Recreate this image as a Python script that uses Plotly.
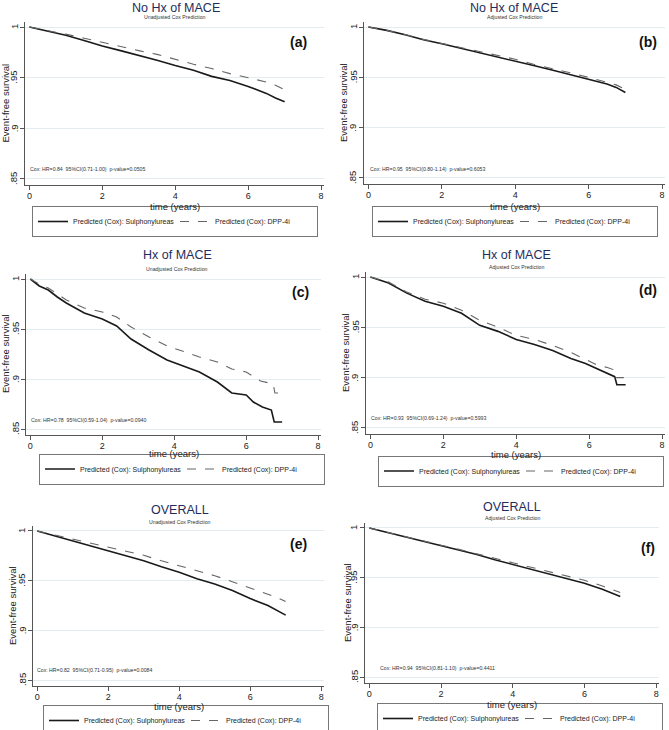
import plotly.graph_objects as go

W, H = 669, 730

# ---------------- data ----------------
time_std = [0, 0.5, 1, 1.5, 2, 2.5, 3, 3.5, 4, 4.5, 5, 5.5, 6, 6.5, 6.75, 7]

# (a) No Hx of MACE - unadjusted
a_su = [1, 0.9963, 0.992, 0.9867, 0.9813, 0.9767, 0.9723, 0.9673, 0.962, 0.9573, 0.9513, 0.9473, 0.9413, 0.9345, 0.930, 0.9263]
a_dpp = [1, 0.9967, 0.993, 0.989, 0.9847, 0.9807, 0.9767, 0.973, 0.968, 0.9633, 0.959, 0.954, 0.950, 0.9457, 0.9425, 0.938]

# (b) No Hx of MACE - adjusted
b_su = [1, 0.9967, 0.9923, 0.9873, 0.9833, 0.979, 0.975, 0.9707, 0.9667, 0.9617, 0.9573, 0.9527, 0.9483, 0.9433, 0.940, 0.935]
b_dpp = [1, 0.9967, 0.9925, 0.9877, 0.9837, 0.9797, 0.9757, 0.9717, 0.968, 0.963, 0.959, 0.9545, 0.950, 0.9455, 0.9425, 0.938]

# (c) Hx of MACE - unadjusted
c_time_su = [0, 0.25, 0.5, 0.75, 1.0, 1.5, 2.0, 2.4, 2.8, 3.3, 3.8, 4.3, 4.7, 5.2, 5.6, 6.0, 6.2, 6.45, 6.7, 6.78, 7.0]
c_su = [1, 0.993, 0.989, 0.982, 0.976, 0.966, 0.960, 0.953, 0.940, 0.929, 0.919, 0.912, 0.907, 0.897, 0.886, 0.884, 0.877, 0.872, 0.869, 0.857, 0.857]
c_time_dpp = [0, 0.25, 0.5, 0.75, 1.0, 1.5, 2.0, 2.4, 2.8, 3.3, 3.8, 4.3, 4.7, 5.2, 5.6, 6.0, 6.4, 6.75, 6.8, 6.95]
c_dpp = [1, 0.995, 0.991, 0.985, 0.979, 0.971, 0.967, 0.962, 0.952, 0.942, 0.933, 0.927, 0.922, 0.917, 0.910, 0.907, 0.898, 0.895, 0.886, 0.886]

# (d) Hx of MACE - adjusted
d_time_su = [0, 0.5, 1, 1.5, 2, 2.5, 3, 3.5, 4, 4.5, 5, 5.5, 5.9, 6.2, 6.5, 6.7, 6.76, 7.0]
d_su = [1, 0.994, 0.984, 0.976, 0.971, 0.964, 0.952, 0.946, 0.938, 0.933, 0.927, 0.919, 0.914, 0.909, 0.904, 0.901, 0.893, 0.893]
d_time_dpp = [0, 0.5, 1, 1.5, 2, 2.5, 3, 3.5, 4, 4.5, 5, 5.5, 5.9, 6.2, 6.5, 6.66, 6.72, 6.95]
d_dpp = [1, 0.995, 0.985, 0.978, 0.974, 0.967, 0.957, 0.950, 0.942, 0.938, 0.932, 0.925, 0.918, 0.913, 0.910, 0.908, 0.900, 0.900]

# (e) OVERALL - unadjusted
e_su = [1, 0.995, 0.990, 0.985, 0.980, 0.975, 0.970, 0.964, 0.9585, 0.952, 0.9466, 0.940, 0.932, 0.925, 0.920, 0.9153]
e_dpp = [1, 0.996, 0.9915, 0.988, 0.984, 0.980, 0.9755, 0.970, 0.9653, 0.960, 0.955, 0.949, 0.943, 0.9364, 0.933, 0.929]

# (f) OVERALL - adjusted
f_su = [1, 0.9955, 0.991, 0.9865, 0.9823, 0.978, 0.9733, 0.968, 0.9633, 0.959, 0.9543, 0.949, 0.9443, 0.9383, 0.935, 0.931]
f_dpp = [1, 0.9955, 0.991, 0.987, 0.9827, 0.9785, 0.9743, 0.9695, 0.965, 0.9605, 0.9563, 0.952, 0.9473, 0.9417, 0.938, 0.935]

series_names = ["Predicted (Cox): Sulphonylureas", "Predicted (Cox): DPP-4i"]
x_ticks = [0, 2, 4, 6, 8]
y_ticks = [0.85, 0.9, 0.95, 1]
y_ticktext = [".85", ".9", ".95", "1"]

panel_titles = ["No Hx of MACE", "No Hx of MACE", "Hx of MACE", "Hx of MACE", "OVERALL", "OVERALL"]
panel_subs = ["Unadjusted Cox Prediction", "Adjusted Cox Prediction"] * 3
panel_labels = ["(a)", "(b)", "(c)", "(d)", "(e)", "(f)"]
panel_hr = [
    "Cox: HR=0.84  95%CI(0.71-1.00)  p-value=0.0505",
    "Cox: HR=0.95  95%CI(0.80-1.14)  p-value=0.6053",
    "Cox: HR=0.78  95%CI(0.59-1.04)  p-value=0.0940",
    "Cox: HR=0.93  95%CI(0.69-1.24)  p-value=0.5993",
    "Cox: HR=0.82  95%CI(0.71-0.95)  p-value=0.0084",
    "Cox: HR=0.94  95%CI(0.81-1.10)  p-value=0.4411",
]

panel_data = [
    (time_std, a_su, time_std, a_dpp),
    (time_std, b_su, time_std, b_dpp),
    (c_time_su, c_su, c_time_dpp, c_dpp),
    (d_time_su, d_su, d_time_dpp, d_dpp),
    (time_std, e_su, time_std, e_dpp),
    (time_std, f_su, time_std, f_dpp),
]

# ---------------- layout (pixel positions) ----------------
layout_px = [
    dict(box=(25, 22, 324, 185), title=(175.5, 8), sub=(175, 17), lab=(298, 42), hr=(28, 169),
         xt=(175, 206), yt=(5, 103.5), leg=(32, 221.5)),
    dict(box=(364, 22, 665, 184), title=(514, 8), sub=(514, 17), lab=(648, 42), hr=(368, 169),
         xt=(515, 206), yt=(343, 103), leg=(372, 221.5)),
    dict(box=(26, 274, 321, 435), title=(177, 255), sub=(177, 269), lab=(300, 292), hr=(29, 420),
         xt=(174, 453.5), yt=(5, 354), leg=(39, 469)),
    dict(box=(366, 272, 665, 434), title=(516, 255), sub=(516, 267), lab=(648, 290), hr=(369, 418),
         xt=(516, 454), yt=(345, 353), leg=(378, 471)),
    dict(box=(33, 526, 324, 686), title=(180, 510), sub=(180, 522), lab=(298, 544), hr=(35, 670),
         xt=(179, 706), yt=(12, 606), leg=(43, 720.5)),
    dict(box=(365, 523, 659, 683), title=(512, 507), sub=(512, 518), lab=(648, 548), hr=(378, 668),
         xt=(512, 704), yt=(347, 603), leg=(377, 718.5)),
]

FONT = "Liberation Sans, Arial, sans-serif"
TITLE_COLOR = "#1e2d5c"
AXIS_COLOR = "#555555"
GRID_COLOR = "#e3ecee"


def px(x):
    return x / W


def py(y):
    return 1 - y / H


fig = go.Figure()
annotations = []
layout_updates = {}

for i in range(6):
    n = i + 1
    sfx = "" if n == 1 else str(n)
    L = layout_px[i]
    t1, s1, t2, s2 = panel_data[i]
    legname = "legend" if n == 1 else f"legend{n}"

    fig.add_trace(go.Scatter(
        x=t1, y=s1, mode="lines", name=series_names[0],
        line=dict(color="#1a1a1a", width=1.6),
        xaxis="x" + sfx, yaxis="y" + sfx, legend=legname, showlegend=True))
    fig.add_trace(go.Scatter(
        x=t2, y=s2, mode="lines", name=series_names[1],
        line=dict(color="#666666", width=1.1, dash="dash"),
        xaxis="x" + sfx, yaxis="y" + sfx, legend=legname, showlegend=True))

    x0, y0, x1, y1 = L["box"]
    layout_updates["xaxis" + sfx] = dict(
        domain=[px(x0), px(x1)], range=[-0.12, 8.08], anchor="y" + sfx,
        tickvals=x_ticks, ticks="outside", ticklen=4, tickcolor=AXIS_COLOR,
        showline=True, linecolor=AXIS_COLOR, linewidth=1, showgrid=False, zeroline=False,
        automargin=False, ticklabelstandoff=-2,
        tickfont=dict(family=FONT, size=9, color="#222"), fixedrange=True)
    layout_updates["yaxis" + sfx] = dict(
        domain=[py(y1), py(y0)], range=[0.844, 1.005], anchor="x" + sfx,
        tickvals=y_ticks, showticklabels=False,
        ticks="outside", ticklen=4, tickcolor=AXIS_COLOR,
        showline=True, linecolor=AXIS_COLOR, linewidth=1,
        showgrid=True, gridcolor=GRID_COLOR, gridwidth=1, zeroline=False,
        automargin=False, fixedrange=True)

    # rotated y tick labels (Stata style), placed on the axis scale
    for tv, tt in zip(y_ticks, y_ticktext):
        annotations.append(dict(
            text=tt, x=px(x0 - 11), y=tv, xref="paper", yref="y" + sfx,
            xanchor="center", yanchor="middle", showarrow=False, textangle=-90,
            font=dict(family=FONT, size=9.5, color="#222")))

    lx, ly = L["leg"]
    layout_updates[legname] = dict(
        x=px(lx), y=py(ly), xanchor="left", yanchor="middle", orientation="h",
        entrywidth=97, entrywidthmode="pixels", itemwidth=30,
        bordercolor="#777", borderwidth=1, bgcolor="white",
        font=dict(family=FONT, size=7, color="#222"), tracegroupgap=0)

    annotations += [
        dict(text=panel_titles[i], x=px(L["title"][0]), y=py(L["title"][1]), xref="paper", yref="paper",
             xanchor="center", yanchor="middle", showarrow=False,
             font=dict(family=FONT, size=12.5, color=TITLE_COLOR)),
        dict(text=panel_subs[i], x=px(L["sub"][0]), y=py(L["sub"][1]), xref="paper", yref="paper",
             xanchor="center", yanchor="middle", showarrow=False,
             font=dict(family=FONT, size=5.2, color="#333")),
        dict(text="<b>" + panel_labels[i] + "</b>", x=px(L["lab"][0]), y=py(L["lab"][1]), xref="paper",
             yref="paper", xanchor="center", yanchor="middle", showarrow=False,
             font=dict(family=FONT, size=14, color="#111")),
        dict(text=panel_hr[i], x=px(L["hr"][0]), y=py(L["hr"][1]), xref="paper", yref="paper",
             xanchor="left", yanchor="middle", showarrow=False,
             font=dict(family=FONT, size=5.2, color="#333")),
        dict(text="time (years)", x=px(L["xt"][0]), y=py(L["xt"][1]), xref="paper", yref="paper",
             xanchor="center", yanchor="middle", showarrow=False,
             font=dict(family=FONT, size=9.5, color="#222")),
        dict(text="Event-free survival", x=px(L["yt"][0]), y=py(L["yt"][1]), xref="paper", yref="paper",
             xanchor="center", yanchor="middle", showarrow=False, textangle=-90,
             font=dict(family=FONT, size=9.5, color="#222")),
    ]

fig.update_layout(
    width=W, height=H, margin=dict(l=0, r=0, t=0, b=0, autoexpand=False),
    paper_bgcolor="white", plot_bgcolor="white",
    annotations=annotations, font=dict(family=FONT),
    **layout_updates)

fig.write_html("out.html", config={"displayModeBar": False},
               post_script="document.body.style.margin='0px';document.body.style.padding='0px';")
